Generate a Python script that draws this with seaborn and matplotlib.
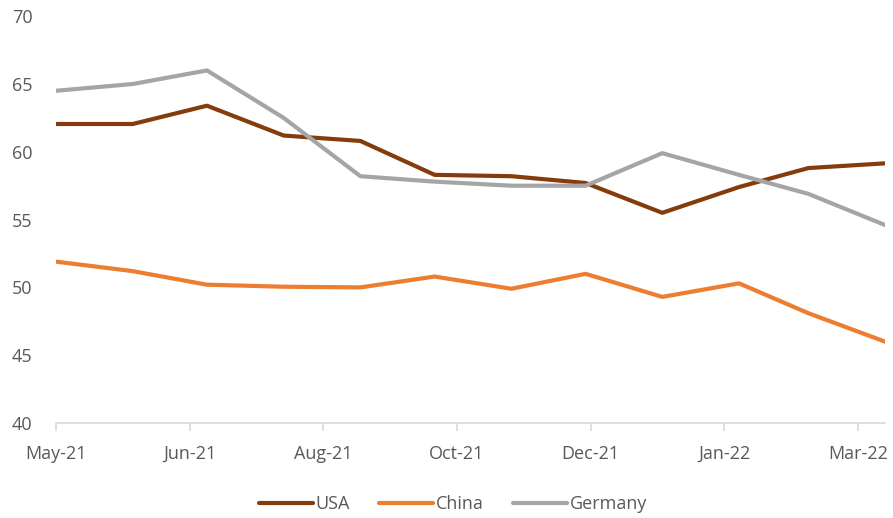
import numpy as np
import pandas as pd
import seaborn as sns
import matplotlib.pyplot as plt
import matplotlib.dates as mdates

# monthly readings, May-21 .. Apr-22
months = pd.date_range('2021-05-01', periods=12, freq='MS')
usa = [62.05, 62.05, 63.4, 61.2, 60.8, 58.3, 58.2, 57.7, 55.5, 57.4, 58.8, 59.15]
china = [51.9, 51.2, 50.2, 50.05, 50.0, 50.8, 49.9, 51.0, 49.3, 50.3, 48.1, 46.0]
germany = [64.5, 65.0, 66.0, 62.5, 58.2, 57.8, 57.5, 57.5, 59.9, 58.3, 56.9, 54.6]
countries = ['USA', 'China', 'Germany']
palette = {'USA': '#843C0C', 'China': '#ED7D31', 'Germany': '#A5A5A5'}

df = pd.DataFrame({'date': months, 'USA': usa, 'China': china, 'Germany': germany})
df = df.melt(id_vars='date', var_name='country', value_name='value')

sns.set_style('white')
plt.rcParams['font.family'] = ['Open Sans', 'DejaVu Sans']
text_color = '#595959'

fig = plt.figure(figsize=(8.93, 5.18), dpi=100)
ax = fig.add_axes([56 / 893, 1 - 423 / 518, 829 / 893, (423 - 16.2) / 518])

sns.lineplot(data=df, x='date', y='value', hue='country', hue_order=countries,
             palette=palette, linewidth=3.0, ax=ax)
for line in ax.get_lines():
    line.set_solid_capstyle('round')
    line.set_solid_joinstyle('round')

# Excel-style date axis, major unit 54 days
ax.set_xlim(months[0], months[-1])
ax.set_xticks(pd.date_range('2021-05-01', periods=7, freq='54D'))
ax.xaxis.set_major_formatter(mdates.DateFormatter('%b-%y'))
ax.set_ylim(40, 70)
ax.set_yticks(np.arange(40, 71, 5))

ax.set_xlabel('')
ax.set_ylabel('')
for side in ['left', 'right', 'top']:
    ax.spines[side].set_visible(False)
ax.spines['bottom'].set_color('#D9D9D9')
ax.spines['bottom'].set_linewidth(1.2)
ax.tick_params(axis='x', colors='#D9D9D9', labelcolor=text_color, labelsize=13,
               length=6, width=1.2, pad=10, direction='out', bottom=True)
ax.tick_params(axis='y', labelcolor=text_color, labelsize=13, length=0, pad=17)

ax.legend(loc='center', bbox_to_anchor=(0.5 - 56 / 893 / 2 + 0.01, -0.2), ncol=3,
          frameon=False, fontsize=13, handlelength=3.0, handletextpad=0.15,
          columnspacing=1.6, labelcolor=text_color)

fig.savefig('out.png', dpi=100)
